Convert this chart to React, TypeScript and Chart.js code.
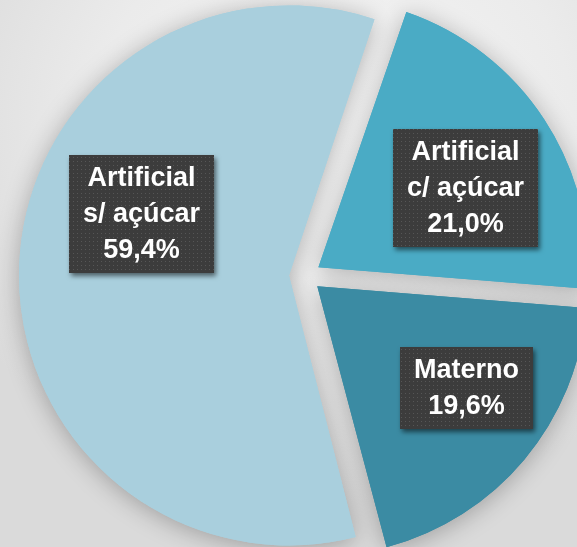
import React, { useEffect, useRef } from "react";
import { Chart, registerables } from "chart.js";

Chart.register(...registerables);

// ---- data ----
const categories = ["Artificial c/ açúcar", "Materno", "Artificial s/ açúcar"];
const labelLines = [["Artificial", "c/ açúcar"], ["Materno"], ["Artificial", "s/ açúcar"]];
const values = [21.0, 19.6, 59.4];

// ---- styles ----
const COLORS = ["#4aabc5", "#3b8ba3", "#a9cfdd"];
const ROTATION = 19;
const RADIUS = 270;
const EXPLODE = 16;
const LABEL_POS = [
  { frac: 0.62, shift: 4.9 },
  { frac: 0.67, shift: -5.5 },
  { frac: 0.59, shift: 20.5 },
];
const FONT = "bold 27px 'Liberation Sans', Arial, sans-serif";
const LINE_H = 36;
const PAD_X = 14;
const PAD_Y = 5;

const fmt = (v: number) => v.toFixed(1).replace(".", ",") + "%";

export default function App() {
  const ref = useRef<HTMLCanvasElement | null>(null);

  useEffect(() => {
    const canvas = ref.current;
    if (!canvas) return;

    const pc = document.createElement("canvas");
    pc.width = 4;
    pc.height = 4;
    const pctx = pc.getContext("2d")!;
    pctx.fillStyle = "#3c3c3c";
    pctx.fillRect(0, 0, 4, 4);
    pctx.fillStyle = "#565656";
    pctx.fillRect(1, 1, 1, 1);
    const pattern = canvas.getContext("2d")!.createPattern(pc, "repeat");

    const radiusFix = {
      id: "radiusFix",
      afterDatasetUpdate(chart: any, args: any) {
        const meta = chart.getDatasetMeta(args.index);
        meta.data.forEach((arc: any) => {
          const circ = arc.endAngle - arc.startAngle;
          const fix = 1 - Math.sin(Math.min(Math.PI, circ));
          arc.outerRadius = RADIUS - EXPLODE * fix;
        });
      },
    };

    const pieShadow = {
      id: "pieShadow",
      beforeDatasetsDraw(chart: any) {
        const ctx = chart.ctx;
        ctx.save();
        ctx.shadowColor = "rgba(0,0,0,0.28)";
        ctx.shadowBlur = 24;
        ctx.shadowOffsetX = 0;
        ctx.shadowOffsetY = 3;
        chart.getDatasetMeta(0).data.forEach((a: any) => a.draw(ctx));
        ctx.restore();
      },
    };

    const boxLabels = {
      id: "boxLabels",
      afterDatasetsDraw(chart: any) {
        const ctx = chart.ctx;
        const meta = chart.getDatasetMeta(0);
        meta.data.forEach((arc: any, i: number) => {
          const { x, y, startAngle, endAngle } = arc.getProps(
            ["x", "y", "startAngle", "endAngle"],
            true
          );
          const mid = (startAngle + endAngle) / 2;
          const cx = x + Math.cos(mid) * EXPLODE;
          const cy = y + Math.sin(mid) * EXPLODE;
          const p = LABEL_POS[i];
          const a = mid + (p.shift * Math.PI) / 180;
          const lx = cx + Math.cos(a) * p.frac * RADIUS;
          const ly = cy + Math.sin(a) * p.frac * RADIUS;
          const lines = [...labelLines[i], fmt(values[i])];
          ctx.save();
          ctx.font = FONT;
          const w = Math.round(Math.max(...lines.map((l) => ctx.measureText(l).width)) + 2 * PAD_X);
          const h = lines.length * LINE_H + 2 * PAD_Y;
          const bx = Math.round(lx - w / 2);
          const by = Math.round(ly - h / 2);
          ctx.shadowColor = "rgba(0,0,0,0.55)";
          ctx.shadowBlur = 5;
          ctx.shadowOffsetX = 2;
          ctx.shadowOffsetY = 3;
          ctx.fillStyle = pattern || "#3c3c3c";
          ctx.fillRect(bx, by, w, h);
          ctx.restore();
          ctx.save();
          ctx.font = FONT;
          ctx.fillStyle = "#ffffff";
          ctx.textAlign = "center";
          ctx.textBaseline = "middle";
          lines.forEach((l, k) => {
            ctx.fillText(l, bx + w / 2, by + PAD_Y + LINE_H * (k + 0.5) + 1);
          });
          ctx.restore();
        });
      },
    };

    const chart = new Chart(canvas, {
      type: "pie",
      data: {
        labels: categories,
        datasets: [
          {
            data: values,
            backgroundColor: COLORS,
            borderWidth: 0,
            offset: EXPLODE * 4,
            radius: RADIUS,
            rotation: ROTATION,
          } as any,
        ],
      },
      options: {
        responsive: false,
        animation: false,
        events: [],
        layout: { padding: { left: 33, top: 5, right: 0, bottom: 0 } },
        plugins: {
          legend: { display: false },
          tooltip: { enabled: false },
        },
      } as any,
      plugins: [radiusFix, pieShadow, boxLabels],
    });

    return () => chart.destroy();
  }, []);

  return (
    <div
      style={{
        position: "fixed",
        left: 0,
        top: 0,
        width: 577,
        height: 547,
        overflow: "hidden",
        background:
          "radial-gradient(ellipse 75% 70% at 58% 22%, #f6f6f6 0%, #ebebeb 55%, #dadada 100%)",
      }}
    >
      <canvas ref={ref} width={577} height={547} style={{ display: "block" }} />
    </div>
  );
}
